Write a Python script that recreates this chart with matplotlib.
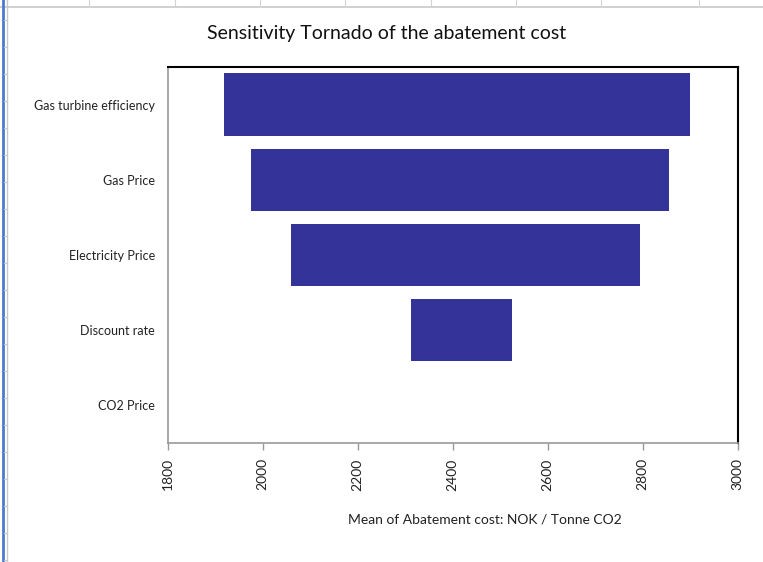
import matplotlib
matplotlib.use("Agg")
import matplotlib.pyplot as plt
from matplotlib.lines import Line2D

# Sensitivity inputs (top to bottom) and the abatement-cost range each one spans
drivers = ["Gas turbine efficiency", "Gas Price", "Electricity Price", "Discount rate", "CO2 Price"]
low_cost = [1919, 1975, 2059, 2312, 2420]
high_cost = [2901, 2856, 2795, 2525, 2420]
x_ticks = [1800, 2000, 2200, 2400, 2600, 2800, 3000]

W, H = 763, 562
fig = plt.figure(figsize=(W / 100, H / 100), dpi=100)
fig.patch.set_facecolor("white")

# Worksheet frame around the chart
def px_line(x0, y0, x1, y1, color, lw):
    fig.add_artist(Line2D([x0 / W, x1 / W], [1 - y0 / H, 1 - y1 / H],
                          transform=fig.transFigure, color=color, lw=lw))

px_line(0, 6.5, W, 6.5, "#c8c8c8", 1.2)
for xv in [89, 175, 260, 345, 431, 516, 601, 699]:
    px_line(xv, 0, xv, 6.5, "#d4d4d4", 0.8)
px_line(2.5, 0, 2.5, H, "#4a7bd0", 2.0)
px_line(7, 0, 7, H, "#c8c8c8", 1.0)
for yv in range(20, H, 27):
    px_line(4, yv, 7, yv, "#c8c8c8", 0.8)

ax = fig.add_axes([167.5 / W, 1 - 443 / H, 570 / W, 376 / H])

n = len(drivers)
ypos = list(range(n))
widths = [h - l for l, h in zip(low_cost, high_cost)]
ax.barh(ypos, widths, left=low_cost, height=0.83, color="#333399",
        edgecolor="none")

ax.set_ylim(n - 0.5, -0.5)
ax.set_xlim(x_ticks[0], x_ticks[-1])
ax.set_xticks(x_ticks)
ax.set_xticklabels([str(t) for t in x_ticks], rotation=90, fontsize=10,
                   family="Lato", color="#222222")
ax.set_yticks(ypos)
ax.set_yticklabels(drivers, fontsize=9, family="Lato", color="#222222")
ax.tick_params(axis="y", length=0, pad=9)
ax.tick_params(axis="x", length=5, width=1, color="#999999", pad=6)

for side in ["left", "bottom"]:
    ax.spines[side].set_color("#999999")
    ax.spines[side].set_linewidth(1.2)
for side in ["top", "right"]:
    ax.spines[side].set_color("black")
    ax.spines[side].set_linewidth(1.5)

ax.set_xlabel("Mean of Abatement cost: NOK / Tonne CO2", fontsize=10,
              family="Lato", color="#222222")
ax.xaxis.set_label_coords((484.5 - 167.5) / 570, -(513 - 443) / 376)

fig.text(387 / W, 1 - 33 / H, "Sensitivity Tornado of the abatement cost",
         ha="center", va="center", fontsize=14, family="Lato", color="#111111")

fig.savefig("out.png", dpi=100, facecolor="white")
